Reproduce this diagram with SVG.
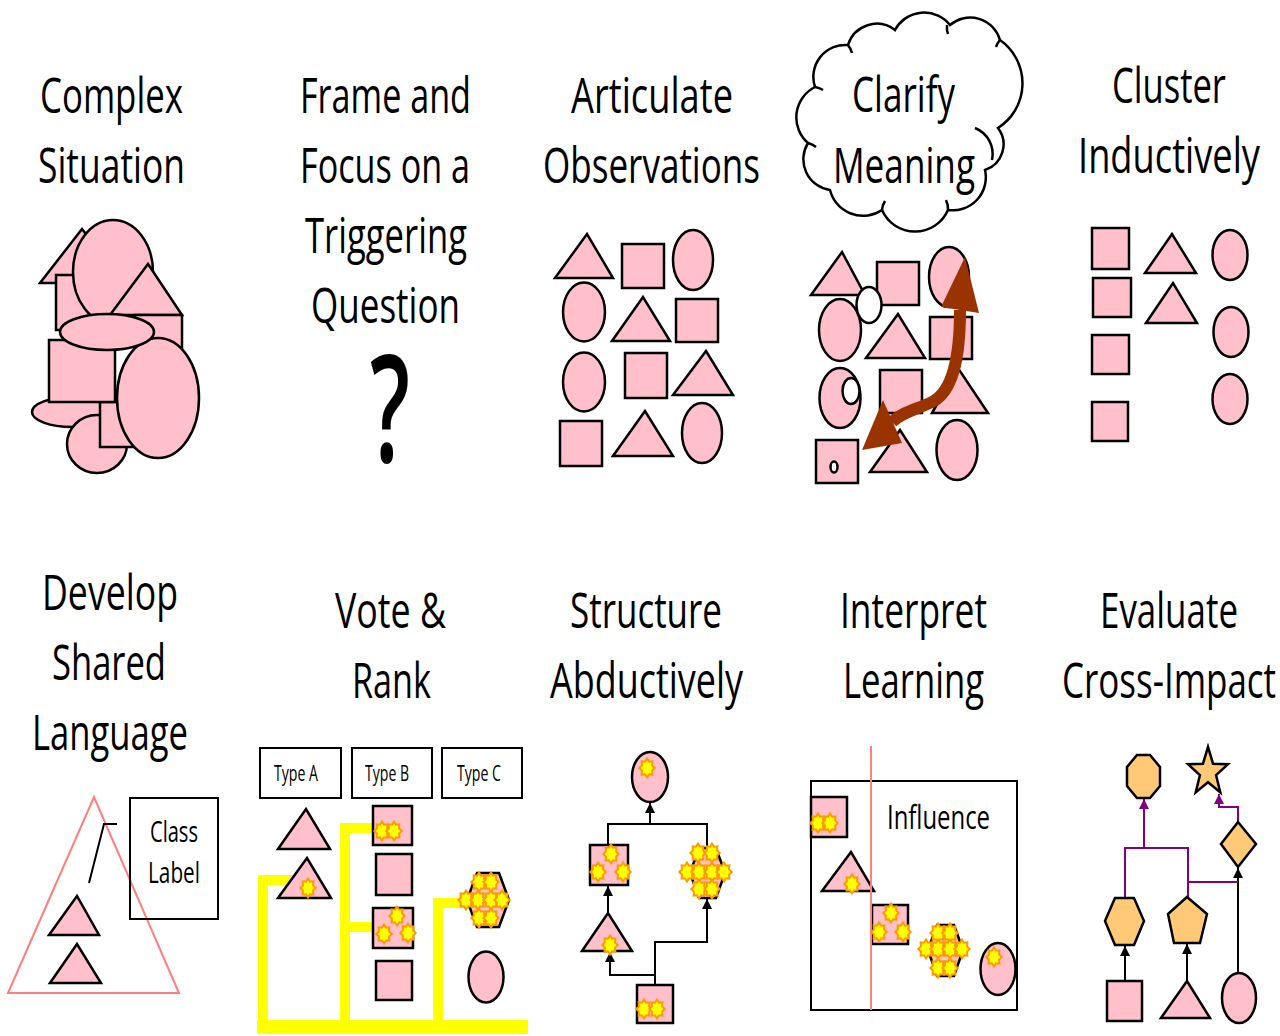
<svg xmlns="http://www.w3.org/2000/svg" width="1280" height="1036" viewBox="0 0 1280 1036">
<style>
.p{fill:#FFBFCB;stroke:#000;stroke-width:2.5;stroke-linejoin:miter}
.o{fill:#FFC977;stroke:#000;stroke-width:2.5}
.w{fill:#fff;stroke:#000;stroke-width:2.5}
.t{font-family:"Open Sans","Noto Sans",sans-serif;fill:#000;font-size:50px}
.s{font-family:"Open Sans","Noto Sans",sans-serif;fill:#000}
.ln{stroke:#000;stroke-width:2;fill:none}
.pl{stroke:#800080;stroke-width:2;fill:none}
.yl{stroke:#FFFF00;stroke-width:10;fill:none}
.bx{fill:none;stroke:#000;stroke-width:2}
</style>
<defs>
<polygon id="st" points="0,-9.5 2.1,-6.3 5.4,-6.7 5.1,-2.6 7.7,0 5.1,2.6 5.4,6.7 2.1,6.3 0,9.5 -2.1,6.3 -5.4,6.7 -5.1,2.6 -7.7,0 -5.1,-2.6 -5.4,-6.7 -2.1,-6.3" fill="#FFFF00" stroke="#FF9900" stroke-width="2"/>
<marker id="ab" viewBox="0 0 10 10" markerWidth="10" markerHeight="10" markerUnits="userSpaceOnUse" refX="10" refY="5" orient="auto"><path d="M0,0 L10,5 L0,10 z" fill="#000"/></marker>
<marker id="ap" viewBox="0 0 10 10" markerWidth="10" markerHeight="10" markerUnits="userSpaceOnUse" refX="10" refY="5" orient="auto"><path d="M0,0 L10,5 L0,10 z" fill="#800080"/></marker>
</defs>
<rect width="1280" height="1036" fill="#fff"/>

<g id="titles">
<text class="t" x="40" y="113" textLength="143" lengthAdjust="spacingAndGlyphs">Complex</text>
<text class="t" x="38" y="183" textLength="147" lengthAdjust="spacingAndGlyphs">Situation</text>
<text class="t" x="300" y="113" textLength="171" lengthAdjust="spacingAndGlyphs">Frame and</text>
<text class="t" x="300" y="183" textLength="170" lengthAdjust="spacingAndGlyphs">Focus on a</text>
<text class="t" x="305" y="253" textLength="162" lengthAdjust="spacingAndGlyphs">Triggering</text>
<text class="t" x="311" y="323" textLength="149" lengthAdjust="spacingAndGlyphs">Question</text>
<text class="s" transform="translate(370,462) scale(1,1.45)" font-size="103" font-weight="600" textLength="40" lengthAdjust="spacingAndGlyphs">?</text>
<text class="t" x="571" y="113" textLength="162" lengthAdjust="spacingAndGlyphs">Articulate</text>
<text class="t" x="543" y="183" textLength="217" lengthAdjust="spacingAndGlyphs">Observations</text>
<text class="t" x="1112" y="103" textLength="114" lengthAdjust="spacingAndGlyphs">Cluster</text>
<text class="t" x="1078" y="173" textLength="182" lengthAdjust="spacingAndGlyphs">Inductively</text>
<text class="t" x="42" y="610" textLength="136" lengthAdjust="spacingAndGlyphs">Develop</text>
<text class="t" x="52" y="680" textLength="114" lengthAdjust="spacingAndGlyphs">Shared</text>
<text class="t" x="32" y="750" textLength="156" lengthAdjust="spacingAndGlyphs">Language</text>
<text class="t" x="335" y="628" textLength="111" lengthAdjust="spacingAndGlyphs">Vote &amp;</text>
<text class="t" x="352" y="698" textLength="79" lengthAdjust="spacingAndGlyphs">Rank</text>
<text class="t" x="570" y="628" textLength="152" lengthAdjust="spacingAndGlyphs">Structure</text>
<text class="t" x="550" y="698" textLength="193" lengthAdjust="spacingAndGlyphs">Abductively</text>
<text class="t" x="840" y="628" textLength="147" lengthAdjust="spacingAndGlyphs">Interpret</text>
<text class="t" x="843" y="698" textLength="141" lengthAdjust="spacingAndGlyphs">Learning</text>
<text class="t" x="1100" y="628" textLength="138" lengthAdjust="spacingAndGlyphs">Evaluate</text>
<text class="t" x="1062" y="698" textLength="214" lengthAdjust="spacingAndGlyphs">Cross-Impact</text>
</g>

<g id="cloud">
<path d="M848,45 A30,30 0 0 1 895,30 A33,33 0 0 1 950,25 A31,31 0 0 1 1000,40 A53,53 0 0 1 998,128 A27,27 0 0 1 985,170 A33,33 0 0 1 948,210 A36,36 0 0 1 882,210 A34,34 0 0 1 830,190 A31,31 0 0 1 808,143 A34,34 0 0 1 815,87 A32,32 0 0 1 848,45 Z" fill="#fff" stroke="#000" stroke-width="2.5"/>
<path d="M975,128 A28,28 0 0 1 992,160 M815,87 A20,20 0 0 1 823,90 M808,143 A20,20 0 0 1 816,147 M848,45 A22,22 0 0 1 852,53 M947,25 A20,20 0 0 0 948,34 M1000,40 A20,20 0 0 0 996,47 M882,210 A20,20 0 0 1 885,201 M948,210 A20,20 0 0 0 946,200" fill="none" stroke="#000" stroke-width="2.5"/>
<text class="t" x="852" y="112" textLength="103" lengthAdjust="spacingAndGlyphs">Clarify</text>
<text class="t" x="833" y="183" textLength="142" lengthAdjust="spacingAndGlyphs">Meaning</text>
</g>

<g id="complex-situation">
<polygon class="p" points="40,283 82,229 124,283"/>
<rect class="p" x="56" y="275" width="50" height="55"/>
<ellipse class="p" cx="113" cy="272" rx="40" ry="52"/>
<polygon class="p" points="110,315 148,264 182,315"/>
<rect class="p" x="135" y="315" width="47" height="45"/>
<ellipse class="p" cx="72" cy="412" rx="40" ry="15"/>
<ellipse class="p" cx="97" cy="444" rx="30" ry="29"/>
<rect class="p" x="100" y="402" width="40" height="45"/>
<rect class="p" x="49" y="340" width="66" height="62"/>
<ellipse class="p" cx="158" cy="398" rx="41" ry="60"/>
<ellipse class="p" cx="107" cy="332" rx="47" ry="18"/>
</g>

<g id="articulate-observations">
<polygon class="p" points="555,278 587,234 613,278"/>
<rect class="p" x="622" y="244" width="42" height="44"/>
<ellipse class="p" cx="693" cy="260" rx="20" ry="30"/>
<ellipse class="p" cx="584" cy="312" rx="21" ry="29.5"/>
<polygon class="p" points="612,341 643,297 670,341"/>
<rect class="p" x="676" y="299" width="42" height="43"/>
<ellipse class="p" cx="584" cy="382" rx="21" ry="29.5"/>
<rect class="p" x="625" y="353" width="42" height="45"/>
<polygon class="p" points="673,395 706,351 733,395"/>
<rect class="p" x="560" y="421" width="42" height="45"/>
<polygon class="p" points="613,456 645,411 673,456"/>
<ellipse class="p" cx="702" cy="433" rx="20" ry="30"/>
</g>

<g id="clarify-shapes">
<polygon class="p" points="811,295 842,252 865,295"/>
<rect class="p" x="877" y="262" width="42" height="43"/>
<ellipse class="p" cx="949" cy="277" rx="20" ry="30"/>
<ellipse class="p" cx="840" cy="330" rx="21" ry="31"/>
<ellipse class="w" cx="869" cy="305" rx="12.5" ry="18"/>
<polygon class="p" points="866,358 898,314 925,358"/>
<rect class="p" x="930" y="317" width="42" height="42"/>
<ellipse class="p" cx="840" cy="398" rx="20.5" ry="30"/>
<ellipse class="w" cx="851" cy="391" rx="8.5" ry="13"/>
<rect class="p" x="880" y="370" width="42" height="43"/>
<polygon class="p" points="932,413 958,368 988,413"/>
<rect class="p" x="816" y="440" width="42" height="43"/>
<ellipse class="w" cx="834" cy="467" rx="3.5" ry="5.5" stroke-width="2"/>
<polygon class="p" points="870,472 900,430 927,472"/>
<ellipse class="p" cx="957" cy="450" rx="20.5" ry="30"/>
<path d="M960,310 C960,360 952,392 932,402 C918,409 902,412 892,422" fill="none" stroke="#993300" stroke-width="12"/>
<polygon points="965,257 979,313 941,307" fill="#993300"/>
<polygon points="883,400 862,450 902,443" fill="#993300"/>
</g>

<g id="cluster-inductively">
<rect class="p" x="1092" y="228" width="37" height="41"/>
<rect class="p" x="1093" y="278" width="38" height="39"/>
<rect class="p" x="1092" y="335" width="37" height="39"/>
<rect class="p" x="1092" y="402" width="36" height="39"/>
<polygon class="p" points="1145,273 1172,234 1196,273"/>
<polygon class="p" points="1146,323 1173,283 1197,323"/>
<ellipse class="p" cx="1230" cy="255" rx="17.5" ry="25"/>
<ellipse class="p" cx="1231" cy="332" rx="17.5" ry="25"/>
<ellipse class="p" cx="1230" cy="399" rx="17.5" ry="25"/>
</g>

<g id="develop-shared-language">
<polygon points="8,993 94,797 179,993" fill="none" stroke="#FF7F7F" stroke-width="2"/>
<rect class="bx" x="130" y="798" width="88" height="121"/>
<text class="s" x="150" y="842" font-size="29" textLength="48" lengthAdjust="spacingAndGlyphs">Class</text>
<text class="s" x="148" y="883" font-size="29" textLength="52" lengthAdjust="spacingAndGlyphs">Label</text>
<path class="ln" d="M89,883 L104,824 H117"/>
<polygon class="p" points="49,935 77,896 99,935"/>
<polygon class="p" points="50,983 77,944 101,983"/>
</g>

<g id="connectors">
<path class="yl" d="M263,1025 V880 H296"/>
<path class="yl" d="M345,1025 V828 H377 M345,927 H377"/>
<path class="yl" d="M438,1025 V903 H467"/>
<rect x="257" y="1020" width="271" height="14" fill="#FFFF00"/>
<path class="ln" d="M608,845 V824 H707 V848"/>
<path class="ln" d="M650,824 V803" marker-end="url(#ab)"/>
<path class="ln" d="M608,913 V886" marker-end="url(#ab)"/>
<path class="ln" d="M655,985 V942 H707 V899" marker-end="url(#ab)"/>
<path class="ln" d="M655,975 H610 V952" marker-end="url(#ab)"/>
<path class="ln" d="M1125,981 V946" marker-end="url(#ab)"/>
<path class="ln" d="M1187,981 V944" marker-end="url(#ab)"/>
<path class="ln" d="M1238,973 V868" marker-end="url(#ab)"/>
<path class="pl" d="M1125,898 V848 H1188 V897 M1188,882 H1238"/>
<path class="pl" d="M1144,848 V799" marker-end="url(#ap)"/>
<path class="pl" d="M1238,822 V807 H1219 V794" marker-end="url(#ap)"/>
</g>

<g id="vote-rank">
<rect class="bx" x="260" y="748" width="81" height="50" stroke-width="1.5"/>
<rect class="bx" x="352" y="748" width="80" height="50" stroke-width="1.5"/>
<rect class="bx" x="442" y="748" width="80" height="50" stroke-width="1.5"/>
<text class="s" x="274" y="781" font-size="21" textLength="44" lengthAdjust="spacingAndGlyphs">Type A</text>
<text class="s" x="365" y="781" font-size="21" textLength="44" lengthAdjust="spacingAndGlyphs">Type B</text>
<text class="s" x="457" y="781" font-size="21" textLength="44" lengthAdjust="spacingAndGlyphs">Type C</text>
<polygon class="p" points="278,849 306,809 330,849"/>
<polygon class="p" points="278,898 307,858 331,898"/>
<use href="#st" x="308" y="888"/>
<rect class="p" x="373" y="806" width="39" height="39"/>
<use href="#st" x="382" y="831"/><use href="#st" x="394" y="831"/>
<rect class="p" x="376" y="854" width="36" height="41"/>
<rect class="p" x="373" y="908" width="40" height="40"/>
<use href="#st" x="397" y="916"/><use href="#st" x="384" y="934"/><use href="#st" x="408" y="933"/>
<rect class="p" x="376" y="961" width="36" height="39"/>
<polygon class="p" points="467,900 477,873 499,873 509,900 499,927 477,927"/>
<use href="#st" x="479" y="882"/><use href="#st" x="491" y="882"/>
<use href="#st" x="466" y="900"/><use href="#st" x="478" y="900"/><use href="#st" x="491" y="900"/><use href="#st" x="502" y="900"/>
<use href="#st" x="479" y="918"/><use href="#st" x="491" y="918"/>
<ellipse class="p" cx="486" cy="977" rx="17.5" ry="25.5"/>
</g>

<g id="structure-abductively">
<ellipse class="p" cx="650" cy="777" rx="18" ry="25"/>
<use href="#st" x="647" y="768"/>
<rect class="p" x="590" y="845" width="38" height="40"/>
<use href="#st" x="611" y="854"/><use href="#st" x="598" y="872"/><use href="#st" x="623" y="872"/>
<polygon class="p" points="582,951 608,913 632,951"/>
<use href="#st" x="610" y="945"/>
<polygon class="p" points="690,873 699,848 716,848 725,873 716,898 699,898"/>
<use href="#st" x="698" y="853"/><use href="#st" x="712" y="853"/>
<use href="#st" x="687" y="872"/><use href="#st" x="699" y="872"/><use href="#st" x="712" y="872"/><use href="#st" x="724" y="872"/>
<use href="#st" x="699" y="889"/><use href="#st" x="712" y="889"/>
<rect class="p" x="637" y="985" width="36" height="38"/>
<use href="#st" x="644" y="1009"/><use href="#st" x="657" y="1009"/>
</g>

<g id="interpret-learning">
<rect class="bx" x="811" y="781" width="206" height="229"/>
<rect class="p" x="811" y="797" width="36" height="40"/>
<use href="#st" x="818" y="823"/><use href="#st" x="830" y="823"/>
<polygon class="p" points="822,891 851,852 874,891"/>
<use href="#st" x="852" y="884"/>
<rect class="p" x="872" y="905" width="36" height="39"/>
<use href="#st" x="891" y="913"/><use href="#st" x="879" y="932"/><use href="#st" x="903" y="932"/>
<polygon class="p" points="928,950 937,925 954,925 963,950 954,976 937,976"/>
<use href="#st" x="938" y="933"/><use href="#st" x="950" y="933"/>
<use href="#st" x="926" y="949"/><use href="#st" x="938" y="949"/><use href="#st" x="950" y="949"/><use href="#st" x="962" y="949"/>
<use href="#st" x="938" y="968"/><use href="#st" x="950" y="968"/>
<ellipse class="p" cx="998" cy="969" rx="17.5" ry="26"/>
<use href="#st" x="994" y="957"/>
<path d="M871,746 V1010" stroke="#FF8080" stroke-width="2"/>
<text class="s" x="887" y="829" font-size="33" textLength="103" lengthAdjust="spacingAndGlyphs">Influence</text>
</g>

<g id="evaluate-cross-impact">
<polygon class="o" points="1137,755 1150,755 1160,767 1160,786 1150,798 1137,798 1127,786 1127,767"/>
<polygon class="o" points="1208,746.8 1213,763.7 1228,764.2 1216.1,775.2 1220.3,792.4 1208,782.2 1195.7,792.4 1199.9,775.2 1188,764.2 1203,763.7"/>
<polygon class="o" points="1238,822 1256,844 1238,867 1221,844"/>
<polygon class="o" points="1105,921 1115,898 1134,898 1144,921 1134,945 1115,945"/>
<polygon class="o" points="1187,897 1207,914 1200,943 1174,943 1168,914"/>
<rect class="p" x="1107" y="981" width="35" height="40"/>
<polygon class="p" points="1161,1018 1187,981 1210,1018"/>
<ellipse class="p" cx="1239" cy="998" rx="17" ry="25"/>
</g>
</svg>
